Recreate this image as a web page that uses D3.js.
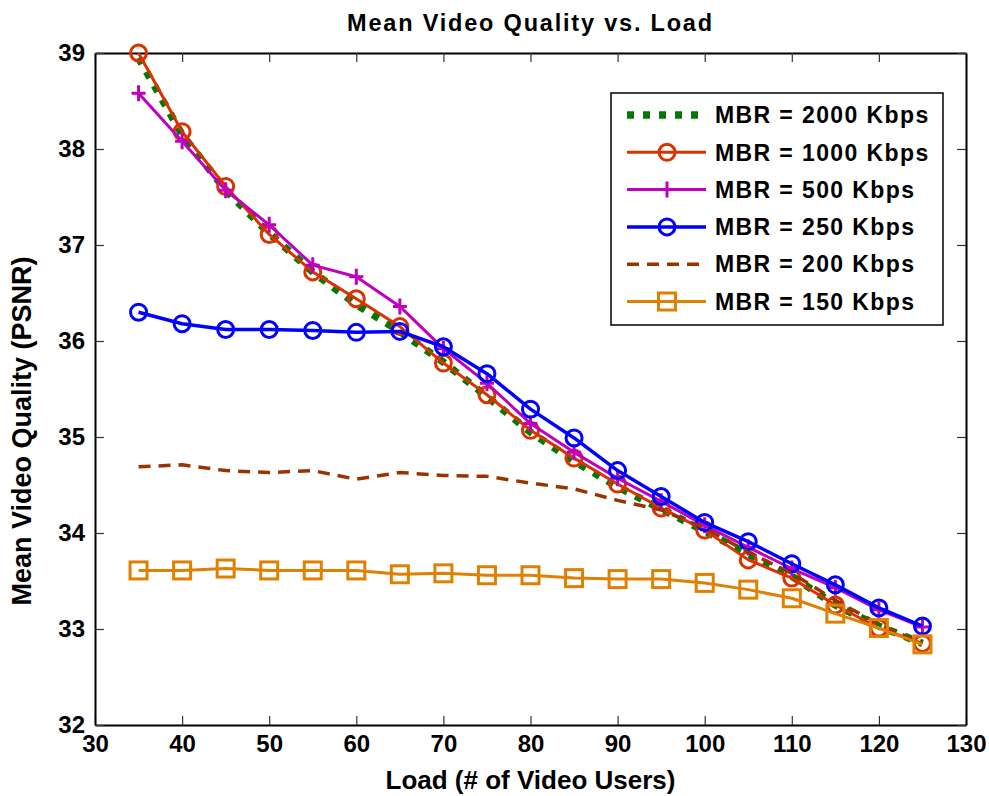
<!DOCTYPE html>
<html>
<head>
<meta charset="utf-8">
<script src="https://cdn.jsdelivr.net/npm/d3@7"></script>
<style>
  body { margin: 0; background: #fff; }
  svg { display: block; font-family: "Liberation Sans", Arial, sans-serif; font-weight: bold; }
</style>
</head>
<body>
<div id="chart"></div>
<script>
var width = 989,
    height = 796;

var margin = {top: 53, right: 23, bottom: 71, left: 95};

// data
var load = [35, 40, 45, 50, 55, 60, 65, 70, 75, 80, 85, 90, 95, 100, 105, 110, 115, 120, 125];

var mbr2000 = [38.95, 38.15, 37.57, 37.12, 36.72, 36.38, 36.10, 35.78, 35.42, 35.05, 34.75, 34.48, 34.25, 34.02, 33.78, 33.55, 33.25, 33.03, 32.85];
var mbr1000 = [39.00, 38.18, 37.61, 37.11, 36.72, 36.44, 36.15, 35.77, 35.44, 35.07, 34.78, 34.51, 34.26, 34.03, 33.72, 33.53, 33.25, 33.01, 32.85];
var mbr500 = [38.58, 38.08, 37.57, 37.21, 36.79, 36.67, 36.36, 35.92, 35.56, 35.14, 34.84, 34.57, 34.33, 34.08, 33.85, 33.63, 33.43, 33.20, 33.02];
var mbr250 = [36.30, 36.18, 36.12, 36.12, 36.11, 36.09, 36.10, 35.94, 35.66, 35.29, 34.99, 34.65, 34.38, 34.11, 33.91, 33.68, 33.46, 33.22, 33.03];
var mbr200 = [34.69, 34.71, 34.65, 34.63, 34.65, 34.56, 34.63, 34.60, 34.59, 34.52, 34.46, 34.34, 34.24, 34.05, 33.80, 33.58, 33.30, 33.05, 32.85];
var mbr150 = [33.61, 33.61, 33.63, 33.61, 33.61, 33.61, 33.57, 33.58, 33.56, 33.56, 33.53, 33.52, 33.52, 33.48, 33.41, 33.32, 33.16, 33.01, 32.84];

var xTicks = [30, 40, 50, 60, 70, 80, 90, 100, 110, 120, 130];
var yTicks = [32, 33, 34, 35, 36, 37, 38, 39];

var seriesNames = ["MBR = 2000 Kbps", "MBR = 1000 Kbps", "MBR = 500 Kbps", "MBR = 250 Kbps", "MBR = 200 Kbps", "MBR = 150 Kbps"];

var series = [
    {name: seriesNames[0], values: mbr2000, color: "#007a00", width: 7.5, dash: "7,9", marker: null},
    {name: seriesNames[1], values: mbr1000, color: "#d93300", width: 3, dash: null, marker: "circle"},
    {name: seriesNames[2], values: mbr500, color: "#bf00bf", width: 3, dash: null, marker: "plus"},
    {name: seriesNames[3], values: mbr250, color: "#0000ff", width: 3.5, dash: null, marker: "circle"},
    {name: seriesNames[4], values: mbr200, color: "#993300", width: 3.5, dash: "12,8", marker: null},
    {name: seriesNames[5], values: mbr150, color: "#e08000", width: 3, dash: null, marker: "square"}
];

var svg = d3.select("#chart")
    .append("svg")
    .attr("width", width)
    .attr("height", height);

svg.append("rect")
    .attr("width", width)
    .attr("height", height)
    .attr("fill", "#fff");

var x = d3.scaleLinear()
    .domain([30, 130])
    .range([margin.left, width - margin.right]);

var y = d3.scaleLinear()
    .domain([32, 39])
    .range([height - margin.bottom, margin.top]);

var TICK = 9;
var fmt = d3.format("d");

// axes, MATLAB style box with inward ticks on all sides
svg.append("g")
    .attr("class", "axis")
    .attr("transform", "translate(0," + y(32) + ")")
    .call(d3.axisBottom(x).tickValues(xTicks).tickFormat(fmt).tickSizeInner(-TICK).tickSizeOuter(0).tickPadding(10))
    .call(styleAxis);

svg.append("g")
    .attr("transform", "translate(0," + y(39) + ")")
    .call(d3.axisTop(x).tickValues(xTicks).tickSizeInner(-TICK).tickSizeOuter(0).tickFormat(""))
    .call(styleAxis);

svg.append("g")
    .attr("class", "axis")
    .attr("transform", "translate(" + x(30) + ",0)")
    .call(d3.axisLeft(y).tickValues(yTicks).tickFormat(fmt).tickSizeInner(-TICK).tickSizeOuter(0).tickPadding(10))
    .call(styleAxis);

svg.append("g")
    .attr("transform", "translate(" + x(130) + ",0)")
    .call(d3.axisRight(y).tickValues(yTicks).tickSizeInner(-TICK).tickSizeOuter(0).tickFormat(""))
    .call(styleAxis);

function styleAxis(g) {
    g.select(".domain").attr("stroke", "#000").attr("stroke-width", 2);
    g.selectAll(".tick line").attr("stroke", "#333").attr("stroke-width", 1.2);
    g.selectAll(".tick text")
        .attr("fill", "#000")
        .attr("font-size", "24px")
        .attr("font-weight", "bold")
        .attr("font-family", "Liberation Sans, Arial, sans-serif");
}

var line = d3.line()
    .x(function (d) { return x(d.x); })
    .y(function (d) { return y(d.y); });

series.forEach(function (s) {
    var pts = load.map(function (l, i) {
        return {x: l, y: s.values[i]};
    });

    var g = svg.append("g").attr("class", "series");

    g.append("path")
        .datum(pts)
        .attr("d", line)
        .attr("fill", "none")
        .attr("stroke", s.color)
        .attr("stroke-width", s.width)
        .attr("stroke-dasharray", s.dash)
        .attr("stroke-linejoin", "round");

    if (s.marker) {
        g.selectAll(".marker")
            .data(pts)
            .enter()
            .append("g")
            .attr("transform", function (d) {
                return "translate(" + x(d.x) + "," + y(d.y) + ")";
            })
            .each(function () {
                drawMarker(d3.select(this), s.marker, s.color);
            });
    }
});

function drawMarker(g, type, color) {
    if (type === "circle") {
        g.append("circle")
            .attr("r", 8)
            .attr("fill", "none")
            .attr("stroke", color)
            .attr("stroke-width", 3);
    } else if (type === "square") {
        g.append("rect")
            .attr("x", -8.5)
            .attr("y", -8.5)
            .attr("width", 17)
            .attr("height", 17)
            .attr("fill", "none")
            .attr("stroke", color)
            .attr("stroke-width", 3);
    } else if (type === "plus") {
        g.append("path")
            .attr("d", "M-7,0H7M0,-8V8")
            .attr("stroke", color)
            .attr("stroke-width", 3);
    }
}

// legend
var legend = svg.append("g")
    .attr("transform", "translate(611,93)");

legend.append("rect")
    .attr("width", 332)
    .attr("height", 232)
    .attr("fill", "#fff")
    .attr("stroke", "#000")
    .attr("stroke-width", 1.5);

var item = legend.selectAll(".item")
    .data(series)
    .enter()
    .append("g")
    .attr("class", "item")
    .attr("transform", function (d, i) {
        return "translate(0," + (22 + i * 37.3) + ")";
    });

item.append("line")
    .attr("x1", 16)
    .attr("x2", 95)
    .attr("stroke", function (d) { return d.color; })
    .attr("stroke-width", function (d) { return d.width; })
    .attr("stroke-dasharray", function (d) { return d.dash; });

item.each(function (d) {
    if (d.marker) {
        var m = d3.select(this).append("g").attr("transform", "translate(56,0)");
        drawMarker(m, d.marker, d.color);
    }
});

item.append("text")
    .attr("x", 104)
    .attr("dy", "0.36em")
    .attr("font-size", "23px")
    .attr("letter-spacing", "1.4px")
    .text(function (d) { return d.name; });

// titles
svg.append("text")
    .attr("x", (x(30) + x(130)) / 2)
    .attr("y", 31)
    .attr("text-anchor", "middle")
    .attr("font-size", "23.5px")
    .attr("letter-spacing", "1.8px")
    .text("Mean Video Quality vs. Load");

svg.append("text")
    .attr("x", (x(30) + x(130)) / 2)
    .attr("y", 789)
    .attr("text-anchor", "middle")
    .attr("font-size", "26px")
    .text("Load (# of Video Users)");

svg.append("text")
    .attr("transform", "translate(31,431) rotate(-90)")
    .attr("text-anchor", "middle")
    .attr("font-size", "27px")
    .text("Mean Video Quality (PSNR)");
</script>
</body>
</html>
